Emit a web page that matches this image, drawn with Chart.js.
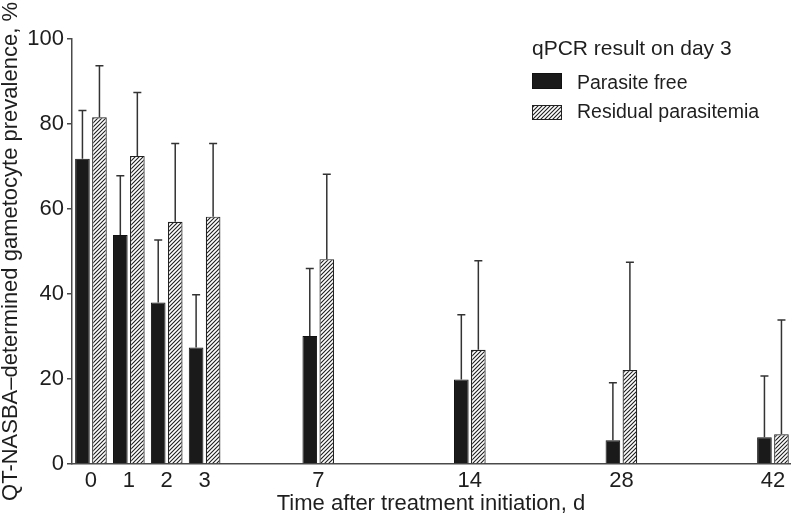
<!DOCTYPE html>
<html>
<head>
<meta charset="utf-8">
<script src="https://cdn.jsdelivr.net/npm/chart.js@4.4.1/dist/chart.umd.min.js"></script>
<style>
  html, body { margin: 0; padding: 0; background: #ffffff; }
  #wrap { width: 792px; height: 524px; }
</style>
</head>
<body>
<div id="wrap"><canvas id="c" width="792" height="524"></canvas></div>
<script>
// ---- data ----
const dayLabels = ['0', '1', '2', '3', '7', '14', '28', '42'];
const parasiteFree = [71.8, 53.9, 38.0, 27.4, 30.1, 19.9, 5.6, 6.3];
const parasiteFreeUpper = [83.2, 67.8, 52.7, 39.8, 46.0, 35.1, 19.1, 20.7];
const residual = [81.6, 72.5, 57.0, 58.2, 48.2, 26.9, 22.1, 7.0];
const residualUpper = [93.7, 87.4, 75.4, 75.4, 68.2, 47.8, 47.5, 33.9];
const yTicks = [0, 20, 40, 60, 80, 100];
const seriesNames = ['Parasite free', 'Residual parasitemia'];
const legendTitle = 'qPCR result on day 3';
const xTitle = 'Time after treatment initiation, d';
const yTitle = 'QT-NASBA\u2013determined gametocyte prevalence, %';

// ---- layout (slot of each day along the broken x axis) ----
const slots = [0, 1, 2, 3, 6, 10, 14, 18];

const FONT = "'Liberation Sans', Arial, Helvetica, sans-serif";
const TEXT = '#1e1e1e';
const AXIS = '#4a4a4a';

function makeHatch() {
  const s = 4;
  const cv = document.createElement('canvas');
  cv.width = s; cv.height = s;
  const g = cv.getContext('2d');
  g.fillStyle = '#ffffff';
  g.fillRect(0, 0, s, s);
  g.strokeStyle = '#1e1e1e';
  g.lineWidth = 1.1;
  g.beginPath();
  g.moveTo(0, s); g.lineTo(s, 0);
  g.moveTo(-1, 1); g.lineTo(1, -1);
  g.moveTo(s - 1, s + 1); g.lineTo(s + 1, s - 1);
  g.stroke();
  return document.getElementById('c').getContext('2d').createPattern(cv, 'repeat');
}
const hatch = makeHatch();

const errorBars = {
  id: 'errorBars',
  afterDatasetsDraw(chart) {
    const ctx = chart.ctx;
    const ys = chart.scales.y;
    chart.data.datasets.forEach((ds, i) => {
      const meta = chart.getDatasetMeta(i);
      meta.data.forEach((el, j) => {
        const up = ds.upper[j];
        const yUp = ys.getPixelForValue(up);
        ctx.save();
        ctx.strokeStyle = '#333333';
        ctx.lineWidth = 1.5;
        ctx.beginPath();
        ctx.moveTo(el.x, el.y);
        ctx.lineTo(el.x, yUp);
        ctx.moveTo(el.x - 4, yUp);
        ctx.lineTo(el.x + 4, yUp);
        ctx.stroke();
        ctx.restore();
      });
    });
  }
};

const customLegend = {
  id: 'customLegend',
  afterDraw(chart) {
    const ctx = chart.ctx;
    const x0 = 532;
    ctx.save();
    ctx.fillStyle = TEXT;
    ctx.textBaseline = 'alphabetic';
    ctx.textAlign = 'left';
    ctx.font = '21px ' + FONT;
    ctx.fillText(legendTitle, x0, 55);
    const rows = [{ top: 73, h: 16, base: 88.5 }, { top: 105, h: 15, base: 117.5 }];
    chart.data.datasets.forEach((ds, i) => {
      const r = rows[i];
      ctx.fillStyle = ds.backgroundColor;
      ctx.fillRect(x0, r.top, 30, r.h);
      ctx.strokeStyle = ds.borderColor;
      ctx.lineWidth = 1;
      ctx.strokeRect(x0 + 0.5, r.top + 0.5, 29, r.h - 1);
      ctx.fillStyle = TEXT;
      ctx.font = '19.5px ' + FONT;
      ctx.fillText(ds.label, 577, r.base);
    });
    ctx.restore();
  }
};

const toPoints = (vals) => vals.map((v, i) => ({ x: slots[i], y: v }));

new Chart(document.getElementById('c'), {
  type: 'bar',
  data: {
    datasets: [
      {
        label: seriesNames[0],
        data: toPoints(parasiteFree),
        upper: parasiteFreeUpper,
        backgroundColor: '#1a1a1a',
        borderColor: '#111111',
        borderWidth: 1
      },
      {
        label: seriesNames[1],
        data: toPoints(residual),
        upper: residualUpper,
        backgroundColor: hatch,
        borderColor: '#222222',
        borderWidth: 1.2
      }
    ]
  },
  options: {
    responsive: false,
    devicePixelRatio: 1,
    animation: false,
    categoryPercentage: 0.898,
    barPercentage: 0.86,
    layout: { padding: { top: 39, right: 2, bottom: 0, left: 0 } },
    plugins: {
      legend: { display: false },
      tooltip: { enabled: false }
    },
    scales: {
      x: {
        type: 'linear',
        min: -0.5,
        max: 18.45,
        offset: false,
        grid: { display: false, drawTicks: false, offset: false },
        border: { display: true, color: AXIS, width: 1.5 },
        afterBuildTicks(axis) { axis.ticks = slots.map(v => ({ value: v })); },
        afterFit(axis) { axis.height = 60; },
        ticks: {
          autoSkip: false,
          maxRotation: 0,
          padding: 4,
          color: TEXT,
          font: { family: FONT, size: 22 },
          callback: (v) => { const k = slots.indexOf(v); return k >= 0 ? dayLabels[k] : ''; }
        },
        title: {
          display: true,
          text: xTitle,
          color: TEXT,
          font: { family: FONT, size: 22 },
          padding: { top: 0, bottom: 7 }
        }
      },
      y: {
        min: 0,
        max: 100,
        afterBuildTicks(axis) { axis.ticks = yTicks.map(v => ({ value: v })); },
        afterFit(axis) { axis.width = 72; },
        grid: { drawOnChartArea: false, drawTicks: true, tickLength: 5, color: AXIS, lineWidth: 1.5 },
        border: { display: true, color: AXIS, width: 1.5 },
        ticks: {
          padding: 3,
          color: TEXT,
          font: { family: FONT, size: 22 }
        },
        title: {
          display: true,
          text: yTitle,
          color: TEXT,
          font: { family: FONT, size: 22, lineHeight: 1.0 },
          padding: { top: 0, bottom: 5 }
        }
      }
    }
  },
  plugins: [errorBars, customLegend]
});
</script>
</body>
</html>
